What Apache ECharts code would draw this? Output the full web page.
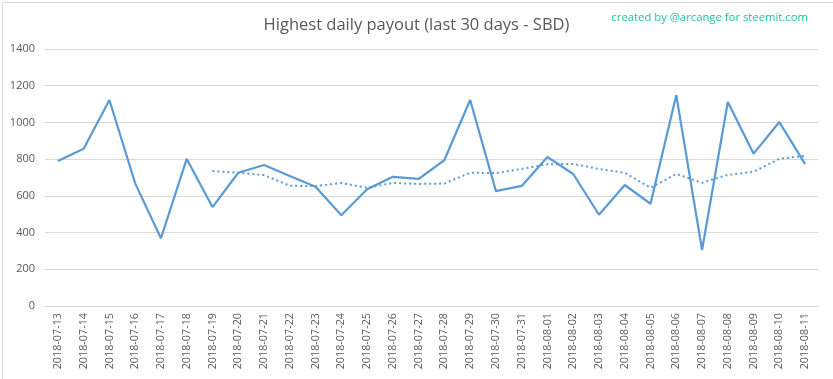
<!DOCTYPE html>
<html>
<head>
<meta charset="utf-8">
<script src="https://cdn.jsdelivr.net/npm/echarts@6/dist/echarts.min.js"></script>
<style>html,body{margin:0;padding:0;background:#fff}#c{width:833px;height:379px}</style>
</head>
<body>
<div id="c"></div>
<script>
const categories = ["2018-07-13","2018-07-14","2018-07-15","2018-07-16","2018-07-17","2018-07-18","2018-07-19","2018-07-20","2018-07-21","2018-07-22","2018-07-23","2018-07-24","2018-07-25","2018-07-26","2018-07-27","2018-07-28","2018-07-29","2018-07-30","2018-07-31","2018-08-01","2018-08-02","2018-08-03","2018-08-04","2018-08-05","2018-08-06","2018-08-07","2018-08-08","2018-08-09","2018-08-10","2018-08-11"];
const dailyPayout = [790,857,1122,668,369,801,539,726,768,708,650,494,636,704,692,795,1122,626,654,812,719,497,659,557,1149,305,1111,830,1002,773];
const movingAverage = [null,null,null,null,null,null,735,726,713,655,653,670,644,670,665,667,726,724,747,772,774,746,725,644,719,671,714,731,802,818];
const yTicks = [0,200,400,600,800,1000,1200,1400];
const titleText = "Highest daily payout (last 30 days - SBD)";
const creditText = "created by @arcange for steemit.com";

const chart = echarts.init(document.getElementById('c'), null, {renderer: 'canvas'});
chart.setOption({
  backgroundColor: '#ffffff',
  animation: false,
  title: [{
    text: titleText, left: 'center', top: 12,
    textStyle: {fontFamily: 'Open Sans', fontSize: 16.5, fontWeight: 'normal', color: '#595959'}
  }, {
    text: creditText, right: 20, top: 7,
    textStyle: {fontFamily: 'Open Sans', fontSize: 11.3, fontWeight: 'normal', color: '#1fc6a0'}
  }],
  graphic: [{
    type: 'rect', left: 0, top: 0, silent: true,
    shape: {x: 0.5, y: 0.5, width: 832, height: 378},
    style: {fill: 'none', stroke: '#d9d9d9', lineWidth: 1}
  }],
  grid: {left: 45, right: 15, top: 49, bottom: 73, containLabel: false},
  xAxis: {
    type: 'category', data: categories, boundaryGap: true,
    axisLine: {lineStyle: {color: '#d9d9d9', width: 1}},
    axisTick: {show: false},
    axisLabel: {rotate: 90, interval: 0, color: '#595959', fontFamily: 'Open Sans', fontSize: 10.8, margin: 7}
  },
  yAxis: {
    type: 'value', min: yTicks[0], max: yTicks[yTicks.length-1], interval: 200,
    axisLine: {show: false}, axisTick: {show: false},
    splitLine: {lineStyle: {color: '#d9d9d9', width: 1}},
    axisLabel: {color: '#595959', fontFamily: 'Open Sans', fontSize: 11, margin: 10,
      formatter: function (v) { return String(v); }}
  },
  series: [{
    name: 'Highest daily payout', type: 'line', data: dailyPayout,
    symbol: 'none', lineStyle: {color: '#5b9bd5', width: 2.25}, z: 3
  }, {
    name: '7-day average', type: 'line', data: movingAverage,
    symbol: 'none', connectNulls: false,
    lineStyle: {color: '#5b9bd5', width: 2, type: [2, 3]}, z: 2
  }]
});
</script>
</body>
</html>
